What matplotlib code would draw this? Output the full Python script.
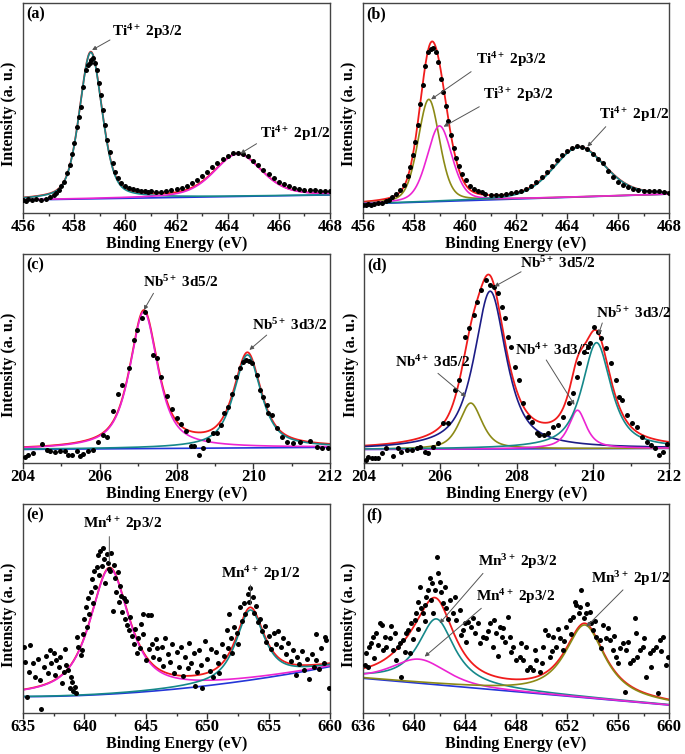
import numpy as np
import matplotlib
matplotlib.use("Agg")
import matplotlib.pyplot as plt
from matplotlib.ticker import MultipleLocator

plt.rcParams.update({
    "font.family": ["Liberation Serif", "DejaVu Serif"],
    "font.weight": "bold",
    "mathtext.fontset": "custom",
    "mathtext.rm": "Liberation Serif:bold",
    "mathtext.it": "Liberation Serif:bold",
    "mathtext.bf": "Liberation Serif:bold",
    "mathtext.default": "rm",
})

# ---------------- (a) Ti 2p ----------------
a_x = [456.0, 456.1, 456.2, 456.35, 456.5, 456.7, 456.9, 457.05, 457.2, 457.3, 457.4, 457.5, 457.6,
       457.72, 457.82, 457.92, 458.0, 458.1, 458.2, 458.28, 458.36, 458.45, 458.53, 458.6, 458.67,
       458.75, 458.83, 458.9, 458.98, 459.05, 459.13, 459.2, 459.3, 459.4, 459.5, 459.6, 459.72,
       459.85, 460.0, 460.15, 460.3, 460.45, 460.6, 460.75, 460.9,
       461.0, 461.2, 461.4, 461.6, 461.8, 462.0, 462.2, 462.4, 462.6, 462.8, 463.0, 463.2, 463.4,
       463.6, 463.8, 464.0, 464.2, 464.4, 464.6, 464.8, 465.0, 465.2, 465.4, 465.6, 465.8, 466.0,
       466.2, 466.4, 466.6, 466.8, 467.0, 467.2, 467.4, 467.6, 467.8, 468.0]
a_y = [6.2, 5.9, 6.5, 6.2, 6.5, 6.3, 6.8, 7.5, 8.6, 9.7, 11.0, 13.0, 14.9,
       18.9, 22.9, 28.1, 33.2, 41.1, 45.9, 50.6, 60.2, 68.1, 70.5, 71.6, 72.9,
       73.7, 71.3, 68.1, 61.7, 56.2, 49.0, 41.9, 34.8, 29.2, 23.7, 19.7, 16.5,
       14.4, 12.9, 11.9, 11.3, 11.0, 10.6, 10.5, 10.2,
       10.3, 10.2, 10.0, 10.4, 10.8, 11.4, 12.0, 12.9, 14.2, 15.8, 17.6, 19.6, 21.7,
       23.8, 25.8, 27.3, 28.4, 28.8, 28.3, 27.0, 25.0, 22.7, 20.5, 18.4, 16.6, 15.0,
       13.8, 12.8, 12.0, 11.4, 11.0, 10.8, 10.9, 10.6, 10.4, 10.4]
a_bg = [6.2, 0.2]
a_center = [458.65, 464.4]
a_height = [69.8, 20.2]
a_fwhm = [1.05, 2.2]
a_eta = [0.4, 0.4]

# ---------------- (b) Ti 2p ----------------
b_x = [456.0, 456.1, 456.2, 456.3, 456.45, 456.6, 456.75, 456.9, 457.0, 457.15, 457.3, 457.45,
       457.6, 457.75, 457.85, 457.95, 458.05, 458.15, 458.25, 458.35, 458.45, 458.55, 458.65,
       458.75, 458.85, 458.95, 459.05, 459.15, 459.25, 459.35, 459.45, 459.55, 459.65, 459.75,
       459.9, 460.05, 460.2, 460.35, 460.5, 460.65, 460.8, 461.0, 461.2, 461.4, 461.6, 461.8,
       462.0, 462.2, 462.4, 462.6, 462.8, 463.0, 463.2, 463.4, 463.6, 463.8, 464.0, 464.2,
       464.4, 464.6, 464.8, 465.0, 465.2, 465.4, 465.6, 465.8, 466.0, 466.2, 466.4, 466.6,
       466.8, 467.0, 467.2, 467.4, 467.6, 467.8, 468.0]
b_y = [4.0, 3.8, 4.1, 3.9, 4.3, 4.6, 5.0, 5.6, 6.2, 7.5, 9.0, 11.0,
       13.5, 17.5, 22.0, 27.5, 34.0, 42.0, 52.0, 61.0, 70.0, 76.5, 78.0,
       78.5, 76.5, 72.0, 64.0, 57.5, 51.0, 44.0, 37.0, 31.0, 26.0, 22.5,
       18.5, 15.5, 13.0, 11.5, 10.5, 9.8, 9.2, 8.8, 8.7, 8.8, 9.0, 9.3,
       9.9, 10.6, 11.6, 13.0, 14.8, 17.0, 19.6, 22.4, 25.2, 27.8, 29.7, 31.0,
       31.8, 31.5, 30.3, 28.0, 25.8, 23.6, 20.0, 17.0, 15.0, 13.5, 12.4, 11.6,
       11.0, 10.6, 10.4, 10.5, 10.3, 10.0, 9.6]
b_bg = [4.3, 0.392]
b_center = [458.58, 459.0, 464.48]
b_height = [48.8, 36.0, 23.7]
b_fwhm = [1.0, 1.15, 2.4]
b_eta = [0.3, 0.3, 0.3]

# ---------------- (c) Nb 3d ----------------
c_x = [204.05, 204.14, 204.27, 204.49, 204.62, 204.70, 204.83, 204.96, 205.09, 205.18, 205.27,
       205.40, 205.49, 205.57, 205.70, 205.83, 205.96, 206.09, 206.18, 206.35, 206.48, 206.58,
       206.75, 206.88, 206.98, 207.09, 207.18, 207.38, 207.48, 207.59, 207.75, 207.88, 208.0,
       208.12, 208.25, 208.39, 208.46, 208.59, 208.68, 208.83, 208.95, 209.05, 209.15, 209.25,
       209.35, 209.45, 209.55, 209.65, 209.73, 209.82, 209.9, 209.98, 210.09, 210.18, 210.26,
       210.35, 210.39, 210.48, 210.61, 210.74, 210.87, 211.04, 211.22, 211.48, 211.65, 211.78,
       211.96]
c_y = [3.0, 3.8, 4.6, 9.1, 6.2, 5.9, 5.4, 5.9, 5.9, 3.8, 3.8,
       5.9, 3.3, 4.3, 5.7, 6.2, 10.0, 13.4, 12.6, 25.0, 33.0, 37.3,
       45.3, 58.9, 63.6, 69.2, 72.4, 51.7, 50.1, 41.3, 32.0, 26.0, 21.5,
       18.5, 15.5, 8.1, 8.1, 3.8, 7.0, 11.0, 14.2, 14.5, 18.2, 23.8,
       27.0, 33.0, 41.3, 45.5, 48.5, 49.5, 49.0, 48.0, 42.1, 34.9, 31.7,
       27.8, 23.8, 23.0, 16.6, 12.6, 10.2, 9.7, 10.2, 10.5, 7.8, 7.0,
       7.0]
c_bg = [6.5, 0.125]
c_center = [207.15, 209.85]
c_height = [65.5, 44.5]
c_fwhm = [0.87, 0.85]
c_eta = [0.75, 0.75]

# ---------------- (d) Nb 3d ----------------
d_x = [204.05, 204.11, 204.20, 204.29, 204.37, 204.46, 204.59, 204.77, 204.90, 204.98, 205.12,
       205.25, 205.38, 205.46, 205.59, 205.68, 205.81, 205.94, 206.07, 206.20, 206.38, 206.49,
       206.64, 206.75, 206.88, 206.96, 207.08, 207.21, 207.31, 207.40, 207.51, 207.61, 207.70,
       207.77, 207.85, 207.95, 208.06, 208.18, 208.30, 208.41, 208.53, 208.60, 208.71, 208.82,
       208.95, 209.08, 209.21, 209.39, 209.47, 209.58, 209.65, 209.78, 209.87, 209.93, 210.04,
       210.13, 210.21, 210.34, 210.47, 210.61, 210.69, 210.78, 210.91, 211.04, 211.17, 211.30,
       211.41, 211.52, 211.63, 211.74, 211.84, 211.96]
d_y = [1.4, 3.0, 2.2, 2.2, 2.2, 4.6, 7.0, 3.3, 7.0, 5.4, 6.2,
       6.2, 7.0, 7.8, 5.4, 4.6, 7.8, 9.4, 19.0, 19.3, 34.9, 39.7,
       60.4, 64.4, 70.8, 77.2, 82.8, 87.6, 85.2, 84.4, 81.2, 74.8, 69.2,
       60.4, 55.7, 46.1, 39.7, 28.5, 22.2, 19.8, 14.2, 13.4, 13.4, 14.2,
       17.4, 18.2, 22.2, 28.5, 33.3, 41.3, 47.7, 53.3, 55.7, 57.3, 64.9,
       62.8, 59.6, 54.9, 47.7, 39.7, 31.7, 30.1, 23.0, 19.0, 17.4, 12.6,
       10.2, 8.6, 7.0, 3.8, 5.4, 9.1]
d_bg = [6.5, 0.0625]
d_center = [207.31, 206.8, 209.6, 210.1]
d_height = [75.5, 22.0, 18.4, 50.7]
d_fwhm = [1.0, 0.7, 0.55, 0.9]
d_eta = [0.8, 0.6, 0.8, 0.8]

# ---------------- (e) Mn 2p ----------------
e_x = [635.1, 635.2, 635.3, 635.5, 635.6, 635.8, 636.0, 636.2, 636.4, 636.5, 636.7, 636.9, 637.0,
       637.2, 637.3, 637.5, 637.6, 637.7, 637.9, 638.0, 638.2, 638.3, 638.4, 638.5, 638.7, 638.8,
       638.9, 639.0, 639.1, 639.2, 639.3, 639.4, 639.5, 639.7, 639.8, 639.9, 640.0, 640.1, 640.2,
       640.3, 640.4, 640.5, 640.6, 640.7, 640.8, 640.9, 641.0, 641.1, 641.2, 641.3, 641.4, 641.5,
       641.6, 641.7, 641.8, 641.9, 642.0, 642.1, 642.2, 642.3, 642.4, 642.5, 642.6, 642.7, 642.8,
       642.9, 643.0, 643.1, 643.2, 643.3, 643.4, 643.5, 643.6, 643.7, 643.9, 644.0, 644.1, 644.3,
       644.4, 644.5, 644.6, 644.8, 645.0, 645.2, 645.3, 645.5, 645.6, 645.8, 645.9, 646.1, 646.3,
       646.4, 646.6, 646.8, 647.0, 647.1, 647.3, 647.5, 647.7, 647.9, 648.0, 648.2, 648.4, 648.5,
       648.7, 648.9, 649.0, 649.2, 649.3, 649.5, 649.6, 649.8, 650.0, 650.2, 650.3, 650.5, 650.7,
       650.9, 651.0, 651.2, 651.4, 651.6, 651.7, 651.8, 651.9, 652.0, 652.2, 652.4, 652.5, 652.7,
       652.8, 653.0, 653.1, 653.3, 653.4, 653.5, 653.7, 653.8, 654.0, 654.1, 654.3, 654.5, 654.7,
       654.8, 655.0, 655.2, 655.4, 655.6, 655.8, 656.0, 656.2, 656.4, 656.6, 656.8, 657.0, 657.2,
       657.3, 657.5, 657.7, 657.9, 658.1, 658.3, 658.5, 658.7, 658.9, 659.1, 659.3, 659.5, 659.7,
       659.9, 644.75, 645.4, 658.9, 659.6]
e_y = [31.7, 24.6, 7.5, 19.8, 32.5, 23.8, 17.4, 26.0, 15.8, 1.8, 22.2, 27.5, 19.0,
       30.0, 23.8, 28.5, 18.0, 25.4, 22.2, 27.0, 14.2, 19.8, 30.5, 23.0, 20.6, 12.0,
       17.4, 15.0, 10.5, 12.6, 9.7, 36.5, 31.7, 27.8, 30.1, 38.0, 45.0, 50.5, 41.0,
       55.0, 47.5, 58.0, 64.0, 52.5, 68.0, 60.5, 70.0, 75.5, 66.0, 77.5, 70.5, 79.0,
       73.5, 62.0, 76.0, 72.0, 69.0, 68.0, 76.5, 49.0, 71.0, 64.5, 58.0, 67.5, 53.0,
       61.0, 56.0, 48.5, 55.0, 45.0, 53.5, 42.0, 39.5, 46.0, 37.0, 33.0, 40.0, 28.5,
       36.0, 31.0, 42.5, 38.0, 25.5, 47.0, 30.5, 33.0, 27.0, 35.5, 31.0, 26.0, 31.5,
       22.5, 36.0, 28.0, 24.5, 33.0, 19.0, 29.0, 22.0, 31.5, 17.5, 27.0, 21.5, 33.5,
       24.0, 28.5, 13.0, 19.5, 30.0, 23.0, 12.0, 34.5, 26.0, 20.0, 30.5, 17.0, 29.0,
       24.0, 19.0, 33.0, 27.5, 39.5, 31.0, 47.5, 36.0, 28.5, 41.0, 38.5, 33.0, 50.5,
       44.0, 52.5, 47.5, 57.0, 53.0, 60.0, 55.5, 48.0, 51.0, 43.5, 45.0, 39.0, 41.5,
       34.0, 37.0, 30.5, 38.5, 33.0, 39.0, 31.5, 36.0, 28.0, 33.5, 25.0, 30.0, 18.0,
       27.0, 23.5, 29.5, 20.5, 26.0, 16.5, 28.0, 22.0, 25.5, 21.0, 31.0, 24.0, 35.0,
       12.0, 47.5, 47.0, 38.0, 36.5]
e_bg = [7.8, 0.016, 0.0224]
e_center = [642.05, 653.5]
e_height = [60.2, 33.5]
e_fwhm = [3.8, 2.7]
e_eta = [0.8, 0.8]

# ---------------- (f) Mn 2p ----------------
f_x = [636.13, 636.26, 636.47, 636.65, 636.78, 637.05, 637.18, 637.31, 637.52, 637.70, 637.83,
       638.09, 638.35, 638.48, 638.75, 638.88, 639.01, 639.14, 639.40, 639.53, 639.66, 639.79,
       640.05, 640.18, 640.31, 640.44, 640.58, 640.71, 640.84, 640.97, 641.10, 641.23, 641.36,
       641.49, 641.62, 641.80, 642.01, 642.14, 642.27, 642.54, 642.80, 643.06, 643.32, 643.58,
       643.84, 643.97, 644.24, 644.50, 644.76, 645.02, 645.41, 645.67, 645.93, 646.20, 646.46,
       646.72, 646.93, 647.11, 647.37, 647.50, 647.76, 648.03, 648.29, 648.55, 648.81, 649.07,
       649.33, 649.59, 649.86, 650.12, 650.25, 650.51, 650.64, 650.90, 651.16, 651.42, 651.69,
       651.95, 652.21, 652.47, 652.73, 652.94, 653.12, 653.31, 653.52, 653.78, 653.91, 654.04,
       654.30, 654.56, 654.82, 655.08, 655.35, 655.61, 655.87, 656.13, 656.39, 656.52, 656.65,
       656.92, 657.18, 657.31, 657.44, 657.70, 657.96, 658.22, 658.48, 658.75, 659.01, 659.14,
       659.27, 659.53, 659.79, 659.92,
       636.4, 636.9, 637.6, 638.2, 638.6, 639.3, 639.9, 640.3, 640.9, 641.4, 641.9, 642.4,
       642.7, 643.2, 643.7, 644.1, 644.6, 645.2, 645.8, 646.3, 646.6, 647.0, 647.6, 648.4,
       648.9, 649.5, 650.0, 650.8, 651.3, 651.8, 652.3, 652.6, 653.0, 653.6, 654.2, 654.7,
       655.2, 655.7, 656.0, 656.8, 657.5, 658.0, 658.6, 659.4]
f_y = [23.0, 28.5, 31.7, 33.3, 36.5, 38.1, 32.5, 42.9, 42.1, 36.5, 31.7,
       35.7, 30.1, 38.1, 31.7, 33.3, 17.4, 34.9, 38.1, 39.7, 28.5, 42.9,
       44.5, 47.7, 53.3, 60.4, 50.1, 47.7, 51.7, 55.7, 58.9, 64.4, 54.1,
       47.7, 58.9, 74.8, 62.8, 58.1, 52.5, 50.1, 54.1, 47.7, 44.5, 49.3,
       39.7, 42.9, 43.7, 41.3, 38.1, 42.9, 36.5, 35.7, 42.9, 31.7, 38.1,
       41.3, 36.5, 34.1, 46.1, 36.5, 31.7, 25.4, 27.0, 25.4, 31.7, 22.2,
       20.6, 25.4, 19.8, 31.7, 39.7, 37.3, 27.0, 36.5, 31.7, 35.7, 30.1,
       41.3, 44.5, 46.1, 51.7, 47.7, 58.9, 45.3, 47.7, 48.5, 42.9, 39.7,
       36.5, 34.9, 42.1, 35.7, 34.9, 30.1, 27.0, 30.9, 33.3, 10.2, 30.1,
       23.8, 25.4, 45.3, 38.1, 30.1, 31.7, 17.4, 28.5, 30.1, 31.7, 9.4,
       34.9, 36.5, 23.0, 27.0,
       22.0, 26.5, 30.0, 41.5, 25.5, 29.0, 35.5, 40.0, 44.0, 62.0, 67.0, 60.5,
       45.0, 55.5, 37.5, 34.0, 45.5, 33.5, 39.0, 44.5, 27.5, 40.5, 29.0, 33.5,
       20.5, 30.0, 24.0, 29.5, 40.0, 34.5, 38.0, 53.0, 50.5, 52.0, 44.0, 31.0,
       40.5, 37.0, 24.0, 34.0, 27.0, 36.0, 22.0, 29.5]
f_bg = [16.6, -0.533]
f_center = [641.75, 640.4, 653.4]
f_height = [31.5, 11.5, 34.8]
f_fwhm = [3.4, 5.0, 3.75]
f_eta = [0.9, 0.5, 0.9]

# ---------------- styles ----------------
RED = "#f01c1c"
BLUE = "#2436d8"
MAG = "#ec24d2"
TEAL = "#15888a"
OLIVE = "#8c8a16"
NAVY = "#1c1c86"
ARROW = "#555555"


def pvoigt(x, c, h, w, eta):
    d = (x - c) / w
    g = np.exp(-4 * np.log(2) * d ** 2)
    lo = 1.0 / (1 + 4 * d ** 2)
    return h * (eta * lo + (1 - eta) * g)


W, H = 685, 754
fig = plt.figure(figsize=(W / 100, H / 100), dpi=100)


def make_ax(l, r, t, b):
    return fig.add_axes([l / W, (H - b) / H, (r - l) / W, (b - t) / H])


def panel(ax, x, y, xlim, major, minor, bgc, cen, hei, fw, eta, colors, tag, notes):
    xs = np.linspace(xlim[0], xlim[1], 800)
    bg = np.polyval(bgc[::-1], xs - xlim[0])
    comps = [pvoigt(xs, c, h, w, e) for c, h, w, e in zip(cen, hei, fw, eta)]
    env = bg + np.sum(comps, axis=0)
    ax.plot(xs, bg, color=BLUE, lw=1.2, zorder=2)
    ax.plot(xs, env, color=RED, lw=1.3, zorder=2.1)
    for comp, col in zip(comps, colors):
        ax.plot(xs, bg + comp, color=col, lw=1.2, zorder=2.2)
    ax.plot(x, y, "o", color="black", ms=3.6, mec="black", mew=0, zorder=3)
    ax.set_xlim(*xlim)
    ax.set_ylim(0, 100)
    ax.set_yticks([])
    ax.xaxis.set_major_locator(MultipleLocator(major))
    ax.xaxis.set_minor_locator(MultipleLocator(minor))
    ax.tick_params(axis="x", which="major", direction="out", length=4, width=1,
                   labelsize=12, pad=0.5, color="#333333")
    ax.tick_params(axis="x", which="minor", direction="out", length=2.5, width=1, color="#333333")
    for lab in ax.get_xticklabels():
        lab.set_fontweight("bold")
    for s in ax.spines.values():
        s.set_linewidth(1.0)
        s.set_color("#444444")
    ax.set_xlabel("Binding Energy (eV)", fontsize=11.5, fontweight="bold")
    ax.set_ylabel("Intensity (a. u.)", fontsize=11.5, fontweight="bold")
    ax.xaxis.set_label_coords(0.5, -0.108)
    ax.yaxis.set_label_coords(-0.018, 0.47)
    ax.text(0.012, 0.945, tag, transform=ax.transAxes, fontsize=11.5, fontweight="bold",
            ha="left", va="center")
    for txt, tpos, tail, head, style in notes:
        ax.text(tpos[0], tpos[1], txt, fontsize=11, ha="left", va="center", zorder=5)
        ax.annotate("", xy=head, xytext=tail,
                    arrowprops=dict(arrowstyle=style, color=ARROW, lw=0.7,
                                    mutation_scale=6, shrinkA=0, shrinkB=0), zorder=4)


axa = make_ax(23, 330, 3, 213)
axb = make_ax(363, 669, 3, 213)
axc = make_ax(23, 330, 254, 463)
axd = make_ax(364, 669, 254, 463)
axe = make_ax(23, 330, 504, 713)
axf = make_ax(363, 669, 504, 713)

panel(axa, a_x, a_y, (456, 468), 2, 1, a_bg, a_center, a_height, a_fwhm, a_eta,
      [TEAL, MAG], "(a)",
      [(r"Ti$^{4+}$ 2p3/2", (459.47, 86.3), (459.4, 82.4), (458.7, 77.6), "-|>"),
       (r"Ti$^{4+}$ 2p1/2", (465.26, 37.9), (465.13, 33.0), (464.5, 28.3), "-|>")])

panel(axb, b_x, b_y, (456, 468), 2, 1, b_bg, b_center, b_height, b_fwhm, b_eta,
      [OLIVE, MAG, TEAL], "(b)",
      [(r"Ti$^{4+}$ 2p3/2", (460.43, 72.9), (460.24, 67.3), (458.67, 54.1), "-|>"),
       (r"Ti$^{3+}$ 2p3/2", (460.7, 56.2), (460.56, 50.6), (459.16, 41.1), "-|>"),
       (r"Ti$^{4+}$ 2p1/2", (465.26, 46.7), (465.52, 41.1), (464.8, 31.6), "-|>")])

panel(axc, c_x, c_y, (204, 212), 2, 1, c_bg, c_center, c_height, c_fwhm, c_eta,
      [MAG, TEAL], "(c)",
      [(r"Nb$^{5+}$ 3d5/2", (207.14, 86.8), (207.4, 81.2), (207.15, 73.2), "-|>"),
       (r"Nb$^{5+}$ 3d3/2", (209.96, 66.0), (210.35, 61.2), (209.9, 54.1), "-|>")])

panel(axd, d_x, d_y, (204, 212), 2, 1, d_bg, d_center, d_height, d_fwhm, d_eta,
      [NAVY, OLIVE, MAG, TEAL], "(d)",
      [(r"Nb$^{5+}$ 3d5/2", (208.08, 95.5), (208.12, 91.5), (207.42, 84.4), "-|>"),
       (r"Nb$^{5+}$ 3d3/2", (210.08, 71.6), (210.25, 67.0), (210.15, 61.5), "-|>"),
       (r"Nb$^{4+}$ 3d3/2", (207.95, 54.1), (208.78, 49.3), (209.52, 27.8), "-|>"),
       (r"Nb$^{4+}$ 3d5/2", (204.81, 48.5), (205.94, 42.9), (206.67, 31.7), "-|>")])

panel(axe, e_x, e_y, (635, 660), 5, 2.5, e_bg, e_center, e_height, e_fwhm, e_eta,
      [MAG, TEAL], "(e)",
      [(r"Mn$^{4+}$ 2p3/2", (639.85, 90.7), (642.03, 84.4), (642.03, 72.4), "-"),
       (r"Mn$^{4+}$ 2p1/2", (651.15, 66.8), (653.52, 61.2), (653.52, 51.7), "-")])

panel(axf, f_x, f_y, (636, 660), 4, 2, f_bg, f_center, f_height, f_fwhm, f_eta,
      [TEAL, MAG, OLIVE], "(f)",
      [(r"Mn$^{3+}$ 2p3/2", (645.02, 72.4), (645.41, 66.8), (642.01, 42.9), "-|>"),
       (r"Mn$^{4+}$ 2p3/2", (644.89, 55.7), (645.28, 50.1), (640.84, 27.0), "-|>"),
       (r"Mn$^{3+}$ 2p1/2", (653.9, 64.4), (656.39, 58.9), (653.52, 41.3), "-|>")])

fig.savefig("out.png", dpi=100, facecolor="white")
